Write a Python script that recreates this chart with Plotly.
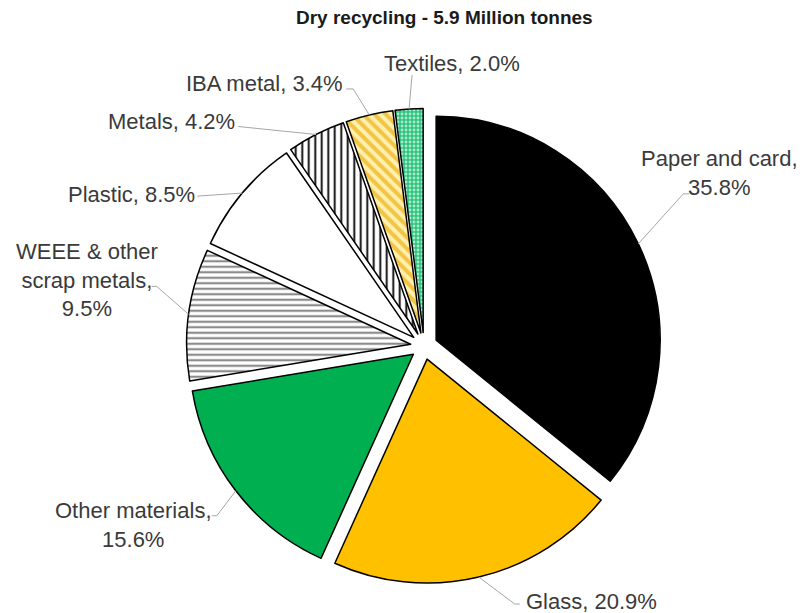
import math
import plotly.graph_objects as go

# ---- data ----
names = ["Paper and card", "Glass", "Other materials", "WEEE & other<br>scrap metals",
         "Plastic", "Metals", "IBA metal", "Textiles"]
values = [35.8, 20.9, 15.6, 9.5, 8.5, 4.2, 3.4, 2.0]
title_text = "Dry recycling - 5.9 Million tonnes"

# ---- style ----
seps = ["<br>", " ", "<br>", ",<br>", " ", " ", " ", " "]
colors = ["#000000", "#ffc000", "#00b050", "#ffffff", "#ffffff", "#ffffff", "#fff0b0", "#2ec27e"]
pat_shapes = ["", "", "", "-", "", "|", "\\", "."]
pat_fg = ["#000000", "#000000", "#000000", "#8c8c8c", "#000000", "#000000", "#f2c443", "#a8ecc8"]
pat_size = [8, 8, 8, 5.5, 8, 6.5, 8, 4]
pat_sol = [0.3, 0.3, 0.3, 0.4, 0.3, 0.28, 0.5, 0.4]

W, H = 806, 613
CX, CY, R, PULL = 424, 346, 224, 0.06
half = R * (1 + PULL)

# label text centre offsets and leader end offsets (pixels, relative to rim anchor)
text_off = [(81, -71), (113, 24), (-102, 34), (-102, -34), (-111, 1), (-145, -13), (-105, -31), (43, -46)]
lead_off = [(45, -50), (36, 27), (-19, 25), (-32, -28), (-45, 3), (-78, -8), (-16, -26), (3, -34)]
tail = [6, 5, -5, -5, 0, 0, -7, 0]

fig = go.Figure(go.Pie(
    labels=[n.replace("<br>", " ") for n in names],
    values=values,
    sort=False,
    direction="clockwise",
    rotation=0,
    pull=PULL,
    textinfo="none",
    hoverinfo="label+percent",
    domain=dict(x=[(CX - half) / W, (CX + half) / W],
                y=[(H - CY - half) / H, (H - CY + half) / H]),
    marker=dict(
        colors=colors,
        line=dict(color="#000000", width=1.5),
        pattern=dict(shape=pat_shapes, fgcolor=pat_fg, bgcolor=colors,
                     size=pat_size, solidity=pat_sol, fillmode="replace"),
    ),
    showlegend=False,
))

def px2paper(x, y):
    return x / W, 1 - y / H

total = sum(values)
cum = 0.0
annotations = []
shapes = []
for i, v in enumerate(values):
    frac = (cum + v / 2) / total
    cum += v
    th = 2 * math.pi * frac
    ax = CX + half * math.sin(th)
    ay = CY - half * math.cos(th)
    tx, ty = ax + text_off[i][0], ay + text_off[i][1]
    lx, ly = ax + lead_off[i][0], ay + lead_off[i][1]
    txt = f"{names[i]}{',' if seps[i] in (' ', '<br>') else ''}{seps[i]}{values[i]:.1f}%"
    px, py = px2paper(tx, ty)
    annotations.append(dict(x=px, y=py, xref="paper", yref="paper", text=txt,
                            showarrow=False, xanchor="center", yanchor="middle",
                            align="center",
                            font=dict(family="Liberation Sans, Arial", size=22, color="#3a3a3a")))
    p0 = px2paper(ax, ay)
    p1 = px2paper(lx, ly)
    p2 = px2paper(lx + tail[i], ly)
    shapes.append(dict(type="path", xref="paper", yref="paper",
                       path=f"M {p0[0]},{p0[1]} L {p1[0]},{p1[1]} L {p2[0]},{p2[1]}",
                       line=dict(color="#a6a6a6", width=1)))

annotations.append(dict(x=444 / W, y=1 - 18 / H, xref="paper", yref="paper", text=f"<b>{title_text}</b>",
                        showarrow=False, xanchor="center", yanchor="middle",
                        font=dict(family="Liberation Sans, Arial", size=19, color="#1a1a1a")))

fig.update_layout(
    width=W, height=H,
    margin=dict(l=0, r=0, t=0, b=0),
    paper_bgcolor="#ffffff",
    plot_bgcolor="#ffffff",
    annotations=annotations,
    shapes=shapes,
)

fig.write_html("out.html",
               config={"displayModeBar": False},
               post_script="document.body.style.margin='0';document.body.style.overflow='hidden';")
